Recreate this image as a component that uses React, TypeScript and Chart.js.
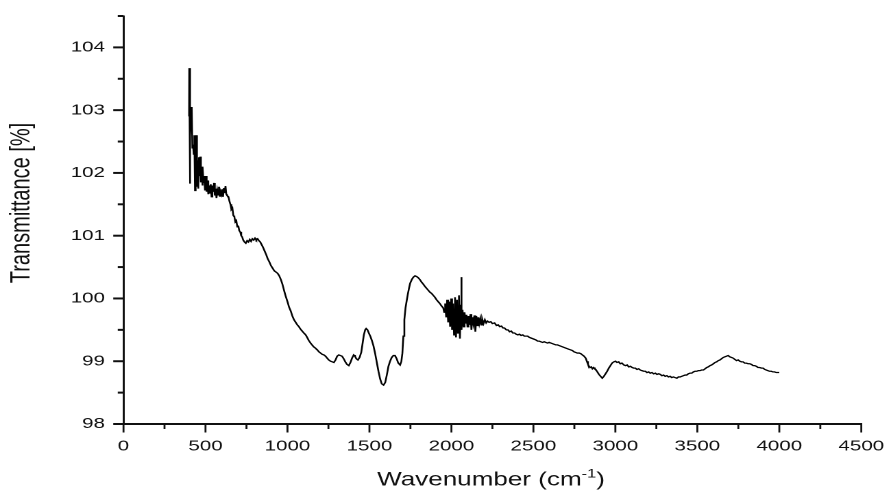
import { useEffect, useRef } from "react";
import { Chart, registerables } from "chart.js";

Chart.register(...registerables);

// ---- data ----
const wavenumber = [
  400, 401, 404, 408, 412, 416, 420, 424, 428, 432, 436, 440, 444, 448, 452, 456, 460, 464, 468, 472,
  476, 480, 484, 488, 492, 497, 502, 507, 512, 517, 522, 527, 532, 537, 542, 547, 552, 557, 562, 567,
  572, 577, 582, 587, 592, 597, 602, 607, 612, 617, 622, 627, 632, 640, 646, 652, 658, 664, 670, 676,
  682, 688, 694, 700, 706, 712, 718, 724, 730, 738, 746, 754, 762, 770, 778, 786, 794, 802, 810, 818,
  826, 834, 842, 850, 860, 870, 880, 890, 900, 910, 920, 930, 940, 950, 960, 970, 980, 990, 1000, 1010,
  1020, 1030, 1040, 1050, 1060, 1070, 1080, 1090, 1100, 1111, 1120, 1130, 1141, 1150, 1160, 1170, 1182, 1192, 1202, 1212,
  1222, 1232, 1242, 1252, 1263, 1273, 1283, 1293, 1303, 1313, 1323, 1333, 1343, 1353, 1363, 1374, 1384, 1394, 1404, 1412,
  1420, 1430, 1440, 1450, 1458, 1466, 1474, 1480, 1488, 1496, 1505, 1515, 1525, 1535, 1545, 1555, 1565, 1575, 1586, 1596,
  1606, 1616, 1626, 1636, 1646, 1656, 1666, 1676, 1687, 1695, 1701, 1707, 1713, 1720, 1727, 1735, 1742, 1748, 1758, 1768,
  1778, 1788, 1798, 1808, 1818, 1828, 1839, 1849, 1859, 1869, 1879, 1889, 1899, 1909, 1919, 1929, 1940, 1950, 1956, 1962,
  1968, 1974, 1980, 1986, 1992, 1998, 2004, 2010, 2016, 2022, 2028, 2034, 2040, 2046, 2052, 2057, 2060, 2063, 2068, 2074,
  2080, 2086, 2092, 2098, 2104, 2110, 2116, 2122, 2128, 2134, 2140, 2146, 2152, 2158, 2164, 2170, 2176, 2182, 2188, 2196,
  2204, 2212, 2220, 2230, 2240, 2250, 2263, 2275, 2285, 2295, 2305, 2315, 2324, 2335, 2345, 2355, 2365, 2375, 2385, 2395,
  2405, 2415, 2425, 2435, 2445, 2455, 2465, 2475, 2485, 2495, 2505, 2515, 2526, 2536, 2546, 2556, 2566, 2576, 2586, 2596,
  2607, 2617, 2627, 2637, 2647, 2657, 2667, 2677, 2687, 2697, 2707, 2717, 2728, 2738, 2748, 2758, 2768, 2779, 2789, 2799,
  2809, 2819, 2826, 2833, 2839, 2846, 2853, 2860, 2867, 2874, 2880, 2890, 2900, 2910, 2920, 2930, 2940, 2950, 2960, 2970,
  2980, 2990, 3001, 3010, 3020, 3030, 3040, 3052, 3062, 3072, 3082, 3092, 3102, 3112, 3122, 3132, 3142, 3152, 3162, 3173,
  3183, 3193, 3203, 3213, 3223, 3234, 3244, 3254, 3264, 3274, 3284, 3294, 3304, 3314, 3324, 3334, 3344, 3354, 3364, 3375,
  3385, 3395, 3405, 3415, 3425, 3435, 3445, 3456, 3466, 3476, 3486, 3496, 3506, 3516, 3526, 3537, 3547, 3557, 3567, 3577,
  3587, 3598, 3608, 3618, 3628, 3638, 3648, 3658, 3668, 3678, 3688, 3698, 3708, 3718, 3728, 3739, 3749, 3759, 3769, 3779,
  3789, 3799, 3810, 3820, 3830, 3840, 3850, 3860, 3870, 3880, 3891, 3901, 3911, 3921, 3931, 3941, 3951, 3961, 3971, 3981,
  3992, 4000,
];

const transmittance = [
  102.9, 103.67, 101.83, 102.6, 102.9, 103.05, 102.4, 102.45, 102.3, 102.6, 101.72, 102.55, 102.6, 101.78, 102.2, 101.75, 102.25, 101.95, 102.26, 101.85,
  102.05, 101.8, 102.1, 101.85, 101.95, 101.72, 101.95, 101.7, 101.88, 101.66, 101.8, 101.68, 101.82, 101.62, 101.8, 101.7, 101.84, 101.64, 101.75, 101.6,
  101.72, 101.65, 101.78, 101.63, 101.7, 101.66, 101.74, 101.62, 101.76, 101.68, 101.79, 101.66, 101.64, 101.62, 101.55, 101.5, 101.42, 101.44, 101.32, 101.3,
  101.22, 101.24, 101.14, 101.16, 101.08, 101.06, 101.0, 100.98, 100.93, 100.9, 100.88, 100.92, 100.9, 100.94, 100.91, 100.95, 100.93, 100.96, 100.93, 100.95,
  100.92, 100.9, 100.86, 100.82, 100.76, 100.7, 100.63, 100.58, 100.52, 100.48, 100.44, 100.42, 100.4, 100.36, 100.3, 100.22, 100.12, 100.03, 99.95, 99.86,
  99.8, 99.72, 99.66, 99.62, 99.58, 99.55, 99.51, 99.48, 99.45, 99.42, 99.38, 99.33, 99.29, 99.26, 99.23, 99.21, 99.18, 99.15, 99.13, 99.11,
  99.1, 99.08, 99.05, 99.02, 99.0, 98.99, 98.98, 99.02, 99.08, 99.1, 99.09, 99.08, 99.04, 98.99, 98.95, 98.93, 98.98, 99.05, 99.1, 99.08,
  99.04, 99.02, 99.06, 99.14, 99.28, 99.42, 99.5, 99.52, 99.5, 99.45, 99.4, 99.33, 99.24, 99.12, 98.98, 98.84, 98.72, 98.64, 98.62, 98.66,
  98.78, 98.92, 99.0, 99.06, 99.09, 99.09, 99.04, 98.97, 98.94, 99.0, 99.13, 99.4, 99.66, 99.85, 99.96, 100.08, 100.17, 100.24, 100.3, 100.34,
  100.36, 100.35, 100.33, 100.3, 100.26, 100.23, 100.19, 100.16, 100.13, 100.1, 100.08, 100.05, 100.02, 99.98, 99.95, 99.92, 99.88, 99.85, 99.78, 99.92,
  99.7, 99.98, 99.62, 99.95, 99.55, 100.0, 99.5, 99.92, 99.42, 100.02, 99.38, 99.98, 99.45, 100.05, 99.36, 99.9, 100.34, 99.5, 99.82, 99.55,
  99.78, 99.6, 99.74, 99.55, 99.72, 99.58, 99.75, 99.5, 99.7, 99.6, 99.73, 99.47, 99.72, 99.57, 99.7, 99.6, 99.68, 99.58, 99.67, 99.6,
  99.66, 99.61, 99.64, 99.62, 99.63, 99.6, 99.61, 99.57, 99.58, 99.55, 99.56, 99.53, 99.53, 99.5, 99.5, 99.47, 99.48, 99.45, 99.45, 99.43,
  99.42, 99.43, 99.41, 99.42, 99.4, 99.4, 99.4, 99.38, 99.37, 99.36, 99.35, 99.34, 99.32, 99.32, 99.31, 99.3, 99.31, 99.3, 99.29, 99.3,
  99.29, 99.28, 99.27, 99.26, 99.26, 99.25, 99.24, 99.23, 99.22, 99.21, 99.2, 99.19, 99.18, 99.17, 99.15, 99.14, 99.13, 99.13, 99.12, 99.1,
  99.08, 99.05, 99.0, 98.95, 98.92, 98.9, 98.91, 98.88, 98.9, 98.88, 98.87, 98.83, 98.79, 98.76, 98.73, 98.76, 98.8, 98.84, 98.89, 98.93,
  98.97, 98.99, 99.0, 98.98, 98.99, 98.96, 98.97, 98.94, 98.93, 98.94, 98.91, 98.92, 98.9, 98.89, 98.89, 98.87, 98.88, 98.86, 98.85, 98.84,
  98.84, 98.82, 98.83, 98.81, 98.82, 98.8, 98.81, 98.79, 98.8, 98.79, 98.77, 98.78, 98.76, 98.77, 98.75, 98.76, 98.74, 98.75, 98.74, 98.73,
  98.75, 98.75, 98.76, 98.77, 98.78, 98.78, 98.8, 98.81, 98.81, 98.83, 98.84, 98.84, 98.85, 98.85, 98.86, 98.86, 98.88, 98.9, 98.91, 98.93,
  98.94, 98.96, 98.98, 98.99, 99.01, 99.02, 99.04, 99.06, 99.07, 99.08, 99.09, 99.07, 99.06, 99.05, 99.03, 99.01, 99.02, 99.0, 98.99, 98.99,
  98.97, 98.97, 98.96, 98.96, 98.95, 98.93, 98.93, 98.92, 98.9, 98.9, 98.89, 98.89, 98.87, 98.86, 98.85, 98.84, 98.84, 98.83, 98.83, 98.82,
  98.82, 98.82,
];

const xTickValues = [0, 500, 1000, 1500, 2000, 2500, 3000, 3500, 4000, 4500];
const xMinorTickValues = [250, 750, 1250, 1750, 2250, 2750, 3250, 3750, 4250];
const yTickValues = [98, 99, 100, 101, 102, 103, 104];
const yMinorTickValues = [98.5, 99.5, 100.5, 101.5, 102.5, 103.5, 104.5];

const xTitle = "Wavenumber (cm";
const xTitleSup = "-1";
const xTitleEnd = ")";
const yTitle = "Transmittance [%]";

// logical canvas is stretched horizontally to the page width (as in the reference)
const LOGICAL_W = 650;
const PAGE_W = 891;
const PAGE_H = 491;
const K = LOGICAL_W / PAGE_W;
const FONT = "'Liberation Sans', Arial, sans-serif";
const INK = "#111";

const axisDecor = {
  id: "axisDecor",
  afterDraw(chart: any) {
    const { ctx, chartArea: ca } = chart;
    const xs = chart.scales.x;
    const ys = chart.scales.y;
    ctx.save();
    ctx.strokeStyle = INK;
    ctx.lineWidth = 1.4;
    const drawX = (v: number, len: number) => {
      const p = xs.getPixelForValue(v);
      ctx.beginPath();
      ctx.moveTo(p, ca.bottom);
      ctx.lineTo(p, ca.bottom + len);
      ctx.stroke();
    };
    xTickValues.forEach((v) => drawX(v, 8.5));
    xMinorTickValues.forEach((v) => drawX(v, 5));
    ctx.lineWidth = 2;
    const drawY = (v: number, len: number) => {
      const p = ys.getPixelForValue(v);
      ctx.beginPath();
      ctx.moveTo(ca.left - len, p);
      ctx.lineTo(ca.left, p);
      ctx.stroke();
    };
    yTickValues.forEach((v) => drawY(v, 7.5));
    yMinorTickValues.forEach((v) => drawY(v, 4.2));

    ctx.fillStyle = INK;
    ctx.textBaseline = "alphabetic";
    ctx.font = `19px ${FONT}`;
    const w1 = ctx.measureText(xTitle).width;
    ctx.font = `12px ${FONT}`;
    const w2 = ctx.measureText(xTitleSup).width;
    ctx.font = `19px ${FONT}`;
    const w3 = ctx.measureText(xTitleEnd).width;
    const total = w1 + w2 + w3;
    const cx = 491 * K;
    let sx = cx - total / 2;
    const base = 485.5;
    ctx.textAlign = "left";
    ctx.fillText(xTitle, sx, base);
    sx += w1;
    ctx.font = `12px ${FONT}`;
    ctx.fillText(xTitleSup, sx, base - 8);
    sx += w2;
    ctx.font = `19px ${FONT}`;
    ctx.fillText(xTitleEnd, sx, base);
    ctx.save();
    ctx.translate(22 * K, 203);
    ctx.rotate(-Math.PI / 2);
    ctx.font = `20px ${FONT}`;
    ctx.textAlign = "center";
    ctx.textBaseline = "middle";
    ctx.fillText(yTitle, 0, 0);
    ctx.restore();
    ctx.restore();
  },
};

export default function App() {
  const ref = useRef<HTMLCanvasElement | null>(null);

  useEffect(() => {
    const canvas = ref.current;
    if (!canvas) return;
    const points = wavenumber.map((x, i) => ({ x, y: transmittance[i] }));
    const hidden = "rgba(0,0,0,0)";
    const chart = new Chart(canvas, {
      type: "line",
      data: {
        datasets: [
          {
            data: points,
            borderColor: "#000",
            borderWidth: 1.3,
            pointRadius: 0,
            tension: 0,
            fill: false,
          },
        ],
      },
      options: {
        responsive: false,
        maintainAspectRatio: false,
        animation: false,
        devicePixelRatio: 2,
        parsing: false,
        layout: { padding: { top: 16, right: 19, left: 0, bottom: 0 } },
        plugins: {
          legend: { display: false },
          tooltip: { enabled: false },
        },
        scales: {
          x: {
            type: "linear",
            min: 0,
            max: 4500,
            afterBuildTicks: (s: any) => {
              s.ticks = xTickValues.map((v) => ({ value: v }));
            },
            afterFit: (s: any) => {
              s.height = 67;
            },
            grid: { display: true, drawOnChartArea: false, drawTicks: true, tickLength: 8.5, color: hidden, tickColor: hidden },
            border: { display: true, color: INK, width: 2 },
            ticks: {
              color: INK,
              padding: 5,
              maxRotation: 0,
              autoSkip: false,
              font: { family: FONT, size: 15 },
              callback: (v: any) => String(v),
            },
          },
          y: {
            type: "linear",
            min: 98,
            max: 104.5,
            afterBuildTicks: (s: any) => {
              s.ticks = yTickValues.map((v) => ({ value: v }));
            },
            afterFit: (s: any) => {
              s.width = 123.5 * K;
            },
            grid: { display: true, drawOnChartArea: false, drawTicks: true, tickLength: 7.5, color: hidden, tickColor: hidden },
            border: { display: true, color: INK, width: 1.5 },
            ticks: {
              color: INK,
              padding: 6,
              autoSkip: false,
              font: { family: FONT, size: 15 },
              callback: (v: any) => String(v),
            },
          },
        },
      },
      plugins: [axisDecor],
    } as any);
    return () => chart.destroy();
  }, []);

  return (
    <div style={{ position: "fixed", left: 0, top: 0, width: PAGE_W, height: PAGE_H, background: "#fff" }}>
      <canvas
        ref={ref}
        width={LOGICAL_W}
        height={PAGE_H}
        style={{ width: `${PAGE_W}px`, height: `${PAGE_H}px`, display: "block" }}
      />
    </div>
  );
}
